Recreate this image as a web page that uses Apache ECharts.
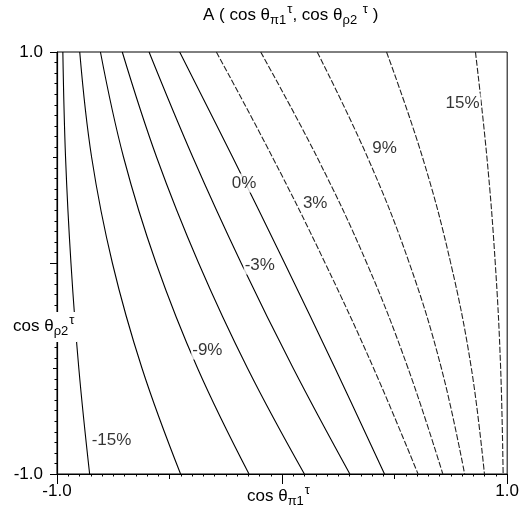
<!DOCTYPE html>
<html>
<head>
<meta charset="utf-8">
<script src="https://cdn.jsdelivr.net/npm/echarts@6/dist/echarts.min.js"></script>
<style>
  html, body { margin: 0; padding: 0; background: #fff; }
  #main { width: 522px; height: 510px; }
</style>
</head>
<body>
<div id="main"></div>
<script>
// rows of cos theta_rho2 where each contour was read
var yRows = [1, 0.5, 0, -0.5, -1];

// x position (cos theta_pi1) of each contour at those rows
var cM15 = [-0.974, -0.962, -0.938, -0.903, -0.855];
var cM12 = [-0.899, -0.846, -0.754, -0.622, -0.451];
var cM9  = [-0.807, -0.704, -0.560, -0.375, -0.147];
var cM6  = [-0.710, -0.557, -0.371, -0.153, 0.099];
var cM3  = [-0.591, -0.396, -0.182, 0.050, 0.301];
var c0   = [-0.455, -0.219, 0.011, 0.236, 0.455];
var cP3  = [-0.292, -0.042, 0.191, 0.407, 0.604];
var cP6  = [-0.095, 0.156, 0.376, 0.560, 0.714];
var cP9  = [0.156, 0.380, 0.565, 0.708, 0.811];
var cP12 = [0.464, 0.624, 0.749, 0.841, 0.899];
var cP15 = [0.859, 0.910, 0.947, 0.971, 0.982];

var levels = [-15, -12, -9, -6, -3, 0, 3, 6, 9, 12, 15];
var contours = [cM15, cM12, cM9, cM6, cM3, c0, cP3, cP6, cP9, cP12, cP15];

// contour labels
var labelText = ['-15%', '-9%', '-3%', '0%', '3%', '9%', '15%'];
var labelX = [-0.758, -0.332, -0.099, -0.169, 0.147, 0.455, 0.802];
var labelY = [-0.839, -0.412, -0.009, 0.379, 0.284, 0.545, 0.758];

var tickLabels = { '-1': '-1.0', '1': '1.0' };

var font = 'Liberation Sans, Arial, Helvetica, sans-serif';
var rich = {
    b: { fontSize: 17, fontWeight: 'normal', fontFamily: font, color: '#000', verticalAlign: 'top', padding: [4, 0, 0, 0] },
    sub: { fontSize: 13, fontWeight: 'normal', fontFamily: font, color: '#000', verticalAlign: 'top', padding: [11, 0, 0, 0] },
    sup: { fontSize: 13, fontWeight: 'normal', fontFamily: font, color: '#000', verticalAlign: 'top', padding: [0, 0, 0, 1] }
};

var series = [];
contours.forEach(function (xs, k) {
    var lvl = levels[k];
    series.push({
        name: lvl + '%',
        type: 'line',
        data: xs.map(function (x, i) { return [x, yRows[i]]; }),
        smooth: 0.4,
        showSymbol: false,
        silent: true,
        lineStyle: {
            color: lvl > 0 ? '#222' : '#000',
            width: 1.1,
            type: lvl > 0 ? [6, 2] : 'solid'
        },
        z: 2
    });
});

series.push({
    type: 'scatter',
    symbolSize: 1,
    itemStyle: { color: 'rgba(0,0,0,0)' },
    silent: true,
    z: 5,
    data: labelText.map(function (t, i) { return { name: t, value: [labelX[i], labelY[i]] }; }),
    label: {
        show: true,
        position: 'inside',
        formatter: '{b}',
        fontSize: 17,
        fontFamily: font,
        color: '#000',
        backgroundColor: '#fff',
        padding: [1, 1]
    }
});

var myChart = echarts.init(document.getElementById('main'));
var option = {
    animation: false,
    title: [
        {
            text: '{b|A ( cos θ}{sub|π1}{sup|τ}{b|, cos θ}{sub|ρ2}{b| }{sup|τ}{b| )}',
            left: 203,
            top: 3,
            padding: 0,
            textStyle: { fontWeight: 'normal', rich: rich }
        },
        {
            text: '{b|cos θ}{sub|π1}{sup|τ}',
            left: 247,
            top: 484,
            padding: 0,
            textStyle: { fontWeight: 'normal', rich: rich }
        },
        {
            text: '{b|cos θ}{sub|ρ2}{sup|τ}',
            left: 10,
            top: 312,
            padding: [2, 3, 4, 3],
            backgroundColor: '#fff',
            textStyle: { fontWeight: 'normal', rich: rich }
        }
    ],
    grid: {
        left: 57,
        right: 10,
        top: 52,
        bottom: 36,
        show: true,
        borderColor: '#000',
        borderWidth: 1
    },
    xAxis: [
        {
            type: 'value',
            min: -1,
            max: 1,
            interval: 0.5,
            axisLine: { show: true, onZero: false, lineStyle: { color: '#000', width: 1.2 } },
            axisTick: { show: true, length: 5, lineStyle: { color: '#000' } },
            minorTick: { show: true, splitNumber: 10, length: 2.5, lineStyle: { color: '#000' } },
            splitLine: { show: false },
            axisLabel: {
                margin: 9,
                fontSize: 17,
                fontFamily: font,
                color: '#000',
                showMinLabel: true,
                showMaxLabel: true,
                formatter: function (v) { return tickLabels[String(v)] || ''; }
            }
        },
        {
            type: 'value',
            min: -1,
            max: 1,
            interval: 1,
            position: 'bottom',
            axisLine: { show: false, onZero: false },
            axisTick: { show: true, length: 10, lineStyle: { color: '#000' } },
            splitLine: { show: false },
            axisLabel: { show: false }
        }
    ],
    yAxis: [
        {
            type: 'value',
            min: -1,
            max: 1,
            interval: 0.5,
            axisLine: { show: true, onZero: false, lineStyle: { color: '#000', width: 1.2 } },
            axisTick: { show: true, length: 4, lineStyle: { color: '#000' } },
            minorTick: { show: true, splitNumber: 10, length: 2.5, lineStyle: { color: '#000' } },
            splitLine: { show: false },
            axisLabel: {
                margin: 14,
                fontSize: 17,
                fontFamily: font,
                color: '#000',
                padding: [0, 0, 8, 0],
                showMinLabel: true,
                showMaxLabel: true,
                formatter: function (v) { return tickLabels[String(v)] || ''; }
            }
        },
        {
            type: 'value',
            min: -1,
            max: 1,
            interval: 1,
            position: 'left',
            axisLine: { show: false, onZero: false },
            axisTick: { show: true, length: 7, lineStyle: { color: '#000' } },
            splitLine: { show: false },
            axisLabel: { show: false }
        }
    ],
    series: series
};
myChart.setOption(option);
</script>
</body>
</html>
